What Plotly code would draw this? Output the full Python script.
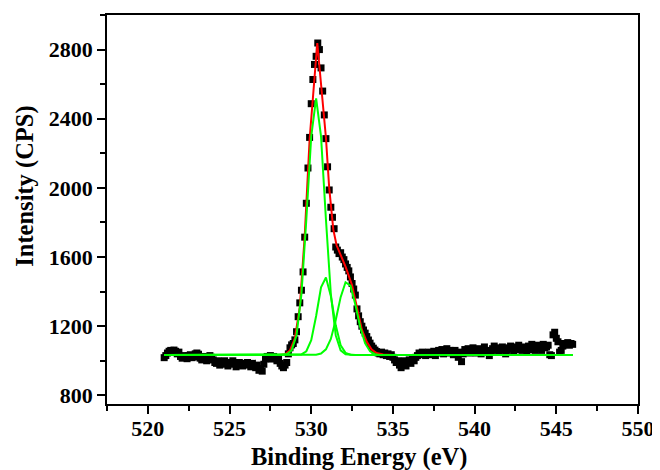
import plotly.graph_objects as go

# ---------------- data ----------------
energy = [
    521.0, 521.1, 521.2, 521.3, 521.4, 521.5, 521.6, 521.7, 521.8, 521.9,
    522.0, 522.1, 522.2, 522.3, 522.4, 522.5, 522.6, 522.7, 522.8, 522.9,
    523.0, 523.1, 523.2, 523.3, 523.4, 523.5, 523.6, 523.7, 523.8, 523.9,
    524.0, 524.1, 524.2, 524.3, 524.4, 524.5, 524.6, 524.7, 524.8, 524.9,
    525.0, 525.1, 525.2, 525.3, 525.4, 525.5, 525.6, 525.7, 525.8, 525.9,
    526.0, 526.1, 526.2, 526.3, 526.4, 526.5, 526.6, 526.7, 526.8, 526.9,
    527.0, 527.1, 527.2, 527.3, 527.4, 527.5, 527.6, 527.7, 527.8, 527.9,
    528.0, 528.1, 528.2, 528.3, 528.4, 528.5, 528.6, 528.7, 528.8, 528.9,
    529.0, 529.1, 529.2, 529.3, 529.4, 529.5, 529.6, 529.7, 529.8, 529.9,
    530.0, 530.1, 530.2, 530.3, 530.4, 530.5, 530.6, 530.7, 530.8, 530.9,
    531.0, 531.1, 531.2, 531.3, 531.4, 531.5, 531.6, 531.7, 531.8, 531.9,
    532.0, 532.1, 532.2, 532.3, 532.4, 532.5, 532.6, 532.7, 532.8, 532.9,
    533.0, 533.1, 533.2, 533.3, 533.4, 533.5, 533.6, 533.7, 533.8, 533.9,
    534.0, 534.1, 534.2, 534.3, 534.4, 534.5, 534.6, 534.7, 534.8, 534.9,
    535.0, 535.1, 535.2, 535.3, 535.4, 535.5, 535.6, 535.7, 535.8, 535.9,
    536.0, 536.1, 536.2, 536.3, 536.4, 536.5, 536.6, 536.7, 536.8, 536.9,
    537.0, 537.1, 537.2, 537.3, 537.4, 537.5, 537.6, 537.7, 537.8, 537.9,
    538.0, 538.1, 538.2, 538.3, 538.4, 538.5, 538.6, 538.7, 538.8, 538.9,
    539.0, 539.1, 539.2, 539.3, 539.4, 539.5, 539.6, 539.7, 539.8, 539.9,
    540.0, 540.1, 540.2, 540.3, 540.4, 540.5, 540.6, 540.7, 540.8, 540.9,
    541.0, 541.1, 541.2, 541.3, 541.4, 541.5, 541.6, 541.7, 541.8, 541.9,
    542.0, 542.1, 542.2, 542.3, 542.4, 542.5, 542.6, 542.7, 542.8, 542.9,
    543.0, 543.1, 543.2, 543.3, 543.4, 543.5, 543.6, 543.7, 543.8, 543.9,
    544.0, 544.1, 544.2, 544.3, 544.4, 544.5, 544.6, 544.7, 544.8, 544.9,
    545.0, 545.1, 545.2, 545.3, 545.4, 545.5, 545.6, 545.7, 545.8, 545.9,
    546.0,
]

intensity = [
    1018, 1030, 1045, 1055, 1060, 1048, 1062, 1055, 1040, 1050,
    1025, 1015, 1030, 1020, 1012, 1028, 1035, 1018, 1022, 1040,
    1045, 1038, 1015, 1005, 1025, 1018, 1000, 1012, 1030, 1020,
    1005, 990, 985, 1000, 975, 995, 980, 1000, 985, 970,
    990, 980, 1000, 985, 965, 975, 990, 985, 970, 980,
    975, 990, 980, 965, 985, 970, 960, 975, 945, 955,
    940, 980, 1010, 1025, 1020, 1030, 1010, 1025, 1015, 1000,
    1010, 985, 970, 960, 975, 990, 1040, 1075, 1092, 1100,
    1121, 1168, 1255, 1335, 1408, 1514, 1715, 1911, 2115, 2292,
    2487, 2627, 2714, 2761, 2838, 2800, 2694, 2560, 2422, 2285,
    2122, 1988, 1888, 1830, 1764, 1658, 1640, 1620, 1625, 1600,
    1585, 1560, 1540, 1520, 1485, 1447, 1415, 1380, 1300, 1260,
    1226, 1200, 1178, 1160, 1140, 1120, 1102, 1085, 1073, 1062,
    1053, 1045, 1040, 1050, 1035, 1045, 1030, 1040, 1025, 1035,
    1020, 1005, 990, 1000, 975, 960, 985, 1000, 970, 990,
    1005, 985, 1010, 1000, 1020, 1030, 1045, 1035, 1050, 1040,
    1030, 1045, 1050, 1035, 1040, 1055, 1030, 1045, 1060, 1050,
    1065, 1040, 1055, 1070, 1045, 1060, 1050, 1035, 1060, 1045,
    1020, 1050, 995, 1040, 1065, 1055, 1070, 1045, 1060, 1075,
    1060, 1045, 1070, 1055, 1040, 1065, 1080, 1050, 1060, 1030,
    1055, 1070, 1085, 1060, 1075, 1050, 1065, 1080, 1070, 1040,
    1060, 1075, 1085, 1070, 1055, 1080, 1065, 1090, 1075, 1060,
    1080, 1070, 1055, 1085, 1065, 1095, 1075, 1060, 1090, 1070,
    1085, 1060, 1095, 1075, 1080, 1090, 1035, 1030, 1150, 1165,
    1130, 1110, 1050, 1060, 1085, 1100, 1095, 1105, 1090, 1100,
    1095,
]

# fitted envelope (red)
env_x = [521.0, 527.6, 528.0, 528.4, 528.7, 529.0, 529.3, 529.6, 529.9, 530.37,
         530.9, 531.1, 531.35, 531.55, 531.8, 532.1, 532.5, 532.8, 533.1, 533.4,
         533.7, 534.0, 534.4, 535.0, 546.0]
env_y = [1033, 1033, 1034, 1038, 1060, 1130, 1310, 1720, 2280, 2838,
         2290, 2000, 1760, 1668, 1610, 1545, 1437, 1300, 1180, 1110,
         1065, 1045, 1036, 1033, 1033]

# fitted components (green), each drawn on top of the background
fit_x = [521.0, 527.6, 527.9, 528.2, 528.5, 528.8, 529.1, 529.4, 529.7, 530.0,
         530.3, 530.6, 530.9, 531.2, 531.5, 531.8, 532.1, 532.4, 532.7, 533.0,
         533.3, 533.6, 533.9, 534.2, 534.5, 534.8, 535.1, 546.0]
comp_1 = [1033, 1033, 1033, 1034, 1038, 1060, 1148, 1386, 1817, 2298,
          2518, 2298, 1817, 1386, 1148, 1060, 1038, 1034, 1033, 1033,
          1033, 1033, 1033, 1033, 1033, 1033, 1033, 1033]
comp_2 = [1033, 1033, 1033, 1033, 1033, 1033, 1033, 1037, 1055, 1119,
          1259, 1425, 1482, 1374, 1205, 1090, 1046, 1035, 1033, 1033,
          1033, 1033, 1033, 1033, 1033, 1033, 1033, 1033]
comp_3 = [1033, 1033, 1033, 1033, 1033, 1033, 1033, 1033, 1033, 1033,
          1035, 1042, 1066, 1126, 1236, 1368, 1454, 1435, 1325, 1194,
          1101, 1055, 1038, 1034, 1033, 1033, 1033, 1033]

x_title = "Binding Energy (eV)"
y_title = "Intensity (CPS)"

# ---------------- figure ----------------
FONT = "Liberation Serif, Times New Roman, serif"
GREEN = "#00FF00"
RED = "#FF0000"

fig = go.Figure()
fig.add_trace(go.Scatter(
    x=energy, y=intensity, mode="markers",
    marker=dict(symbol="square", size=7, color="black", line=dict(width=0)),
    hoverinfo="skip"))
fig.add_trace(go.Scatter(x=env_x, y=env_y, mode="lines",
                         line=dict(color=RED, width=2)))
for comp in (comp_1, comp_2, comp_3):
    fig.add_trace(go.Scatter(x=fit_x, y=comp, mode="lines",
                             line=dict(color=GREEN, width=2)))

tickfont = dict(family=FONT, size=22, color="black", weight="bold")

fig.update_layout(
    width=652, height=462,
    margin=dict(l=99, r=20, t=5, b=66),
    paper_bgcolor="white", plot_bgcolor="white",
    showlegend=False,
    xaxis=dict(
        range=[517.5, 550], tickmode="linear", tick0=520, dtick=5,
        ticks="outside", ticklen=8, tickwidth=1.5, tickcolor="black",
        showline=True, linecolor="black", linewidth=1.5, mirror=True,
        showgrid=False, zeroline=False, tickfont=tickfont,
        ticklabelstandoff=-4,
        minor=dict(ticks="outside", ticklen=5, dtick=2.5, tickwidth=1.5,
                   tickcolor="black", showgrid=False),
    ),
    yaxis=dict(
        range=[750, 3000], tickmode="linear", tick0=800, dtick=400,
        ticks="outside", ticklen=8, tickwidth=1.5, tickcolor="black",
        showline=True, linecolor="black", linewidth=1.5, mirror=True,
        showgrid=False, zeroline=False, tickfont=tickfont,
        minor=dict(ticks="outside", ticklen=5, dtick=200, tickwidth=1.5,
                   tickcolor="black", showgrid=False),
    ),
    annotations=[
        dict(text="<b>" + x_title + "</b>", xref="paper", yref="paper",
             x=0.4744, y=-0.137, xanchor="center", yanchor="middle",
             showarrow=False, font=dict(family=FONT, size=24.5, color="black")),
        dict(text="<b>" + y_title + "</b>", xref="paper", yref="paper",
             x=-0.156, y=0.559, xanchor="center", yanchor="middle",
             textangle=-90, showarrow=False,
             font=dict(family=FONT, size=24.5, color="black")),
    ],
)

fig.write_html("out.html")
